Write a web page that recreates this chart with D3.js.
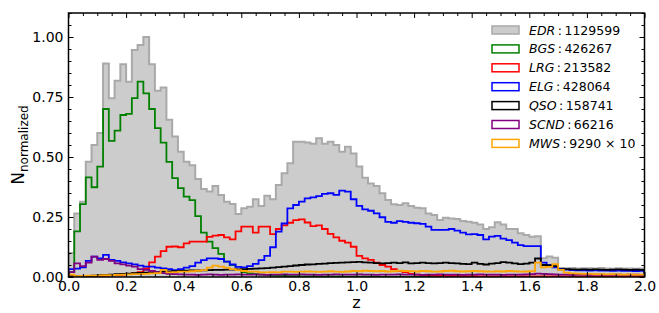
<!DOCTYPE html>
<html>
<head>
<meta charset="utf-8">
<script src="https://cdn.jsdelivr.net/npm/d3@7"></script>
<style>
  body { margin: 0; background: #fff; }
  svg { display: block; font-family: "DejaVu Sans", sans-serif; }
</style>
</head>
<body>
<svg id="chart" width="659" height="313"></svg>
<script>
// redshift histograms, 100 bins of 0.02 between z = 0 and z = 2
const binWidth = 0.02;

const edr = [
  .10, .265, .314, .48, .55, .60, .89, .745, .818, .886,
  .814, .946, .967, 1.0, .886, .776, .79, .655, .585, .522,
  .48, .466, .408, .367, .356, .379, .342, .314, .304, .262,
  .286, .293, .324, .296, .339, .324, .383, .432, .474, .564,
  .564, .56, .555, .578, .555, .564, .55, .522, .543, .515,
  .46, .414, .39, .379, .349, .321, .303, .30, .307, .296,
  .289, .286, .265, .258, .238, .247, .244, .242, .233, .23,
  .226, .219, .20, .207, .228, .219, .20, .20, .182, .175,
  .168, .17, .078, .085, .08, .037, .036, .037, .035, .036,
  .036, .035, .037, .035, .034, .036, .035, .035, .034, .035
];
const bgs = [
  .02, .19, .304, .415, .374, .46, .70, .567, .61, .675,
  .68, .745, .814, .765, .70, .62, .56, .48, .412, .37,
  .335, .32, .254, .185, .147, .12, .096, .064, .05, .03,
  .02, .015, .012, .01, .008, .006, .005, .005, .004, .004,
  .003, .003, .003, .002, .002, .002, .002, .001, .001, .001,
  .001, .001, .001, .001, 0, 0, 0, 0, 0, 0,
  0, 0, 0, 0, 0, 0, 0, 0, 0, 0,
  0, 0, 0, 0, 0, 0, 0, 0, 0, 0,
  0, 0, 0, 0, 0, 0, 0, 0, 0, 0,
  0, 0, 0, 0, 0, 0, 0, 0, 0, 0
];
const lrg = [
  .002, .002, .003, .003, .004, .005, .006, .007, .008, .01,
  .012, .015, .02, .036, .061, .085, .108, .126, .127, .124,
  .14, .147, .147, .147, .167, .172, .175, .165, .157, .19,
  .21, .21, .185, .21, .21, .179, .20, .215, .226, .237,
  .24, .227, .212, .215, .20, .18, .165, .151, .143, .126,
  .088, .078, .071, .06, .05, .043, .033, .025, .02, .013,
  .01, .008, .007, .006, .006, .005, .005, .004, .004, .004,
  .004, .003, .003, .003, .003, .003, .003, .003, .003, .003,
  .003, .003, .003, .003, .003, .003, .003, .003, .003, .003,
  .003, .003, .003, .003, .003, .003, .003, .003, .003, .003
];
const elg = [
  .033, .035, .04, .067, .085, .078, .092, .071, .067, .061,
  .057, .053, .047, .043, .043, .039, .036, .033, .029, .033,
  .039, .045, .06, .07, .078, .078, .075, .064, .052, .042,
  .04, .045, .055, .07, .088, .124, .189, .223, .286, .30,
  .314, .328, .332, .337, .346, .349, .342, .36, .356, .324,
  .296, .282, .276, .265, .249, .23, .226, .233, .23, .226,
  .224, .221, .21, .196, .196, .196, .20, .193, .185, .178,
  .179, .175, .157, .168, .171, .16, .154, .143, .133, .129,
  .129, .129, .06, .05, .04, .034, .031, .029, .028, .028,
  .027, .028, .027, .027, .026, .027, .026, .026, .025, .026
];
const qso = [
  .002, .003, .004, .005, .006, .008, .009, .01, .012, .013,
  .014, .016, .017, .018, .02, .021, .022, .023, .024, .025,
  .026, .027, .027, .028, .029, .03, .03, .031, .031, .032,
  .033, .034, .035, .036, .037, .039, .041, .043, .045, .048,
  .05, .052, .053, .055, .056, .058, .059, .06, .061, .062,
  .063, .061, .06, .058, .057, .058, .06, .058, .061, .057,
  .058, .06, .058, .057, .058, .06, .058, .057, .055, .054,
  .06, .055, .052, .056, .058, .062, .06, .057, .054, .056,
  .06, .077, .05, .048, .045, .032, .033, .032, .031, .032,
  .031, .032, .031, .03, .031, .032, .031, .03, .031, .03
];
const scnd = [
  .02, .057, .045, .06, .085, .071, .075, .067, .057, .053,
  .047, .043, .033, .03, .025, .02, .016, .013, .012, .011,
  .01, .01, .009, .01, .011, .01, .009, .01, .01, .011,
  .01, .01, .011, .01, .009, .01, .01, .011, .01, .01,
  .011, .01, .01, .009, .01, .01, .011, .01, .01, .01,
  .011, .01, .01, .009, .01, .01, .01, .011, .01, .01,
  .01, .009, .01, .01, .011, .01, .01, .01, .009, .01,
  .01, .011, .01, .01, .01, .009, .01, .01, .01, .011,
  .012, .014, .013, .012, .011, .01, .01, .009, .01, .01,
  .009, .01, .01, .009, .01, .01, .009, .01, .01, .009
];
const mws = [
  .01, .004, .005, .006, .006, .007, .008, .008, .009, .01,
  .011, .012, .012, .013, .015, .016, .03, .019, .02, .022,
  .022, .024, .026, .029, .039, .047, .043, .039, .033, .029,
  .025, .022, .022, .019, .019, .02, .019, .022, .022, .021,
  .022, .023, .022, .021, .022, .024, .022, .021, .023, .025,
  .024, .026, .025, .024, .025, .023, .024, .026, .025, .024,
  .023, .025, .024, .022, .023, .025, .026, .024, .023, .024,
  .025, .024, .023, .022, .024, .023, .025, .024, .022, .023,
  .024, .06, .04, .042, .054, .03, .018, .015, .014, .013,
  .013, .012, .012, .011, .012, .011, .01, .011, .01, .01
];

const seriesNames = ["EDR", "BGS", "LRG", "ELG", "QSO", "SCND", "MWS"];
const seriesCounts = ["1129599", "426267", "213582", "428064", "158741", "66216", "9290 \u00d7 10"];
const seriesColors = ["#a9a9a9", "#008000", "#ff0000", "#0000ff", "#000000", "#800080", "#ffa500"];
const seriesValues = [edr, bgs, lrg, elg, qso, scnd, mws];

const xTicks = [0, 0.2, 0.4, 0.6, 0.8, 1.0, 1.2, 1.4, 1.6, 1.8, 2.0];
const yTicks = [0, 0.25, 0.5, 0.75, 1.0];

const svg = d3.select("#chart");
const plotLeft = 68.5, plotRight = 644.5, plotTop = 13, plotBottom = 277;

const x = d3.scaleLinear().domain([0, 2]).range([plotLeft, plotRight]);
const y = d3.scaleLinear().domain([0, 1.1]).range([plotBottom, plotTop]);

svg.append("defs").append("clipPath").attr("id", "plotClip")
  .append("rect").attr("x", plotLeft).attr("y", plotTop)
  .attr("width", plotRight - plotLeft).attr("height", plotBottom - plotTop);

// step outline for a histogram, closed down to zero at both ends
function stepPoints(vals) {
  const pts = [[0, 0]];
  vals.forEach(function (v, i) {
    pts.push([i * binWidth, v]);
    pts.push([(i + 1) * binWidth, v]);
  });
  pts.push([vals.length * binWidth, 0]);
  return pts;
}

const line = d3.line()
  .x(function (d) { return x(d[0]); })
  .y(function (d) { return y(d[1]); });

const plot = svg.append("g").attr("clip-path", "url(#plotClip)");

seriesValues.forEach(function (vals, k) {
  plot.append("path")
    .attr("d", line(stepPoints(vals)))
    .attr("fill", k === 0 ? "#cccccc" : "none")
    .attr("stroke", seriesColors[k])
    .attr("stroke-width", k === 0 ? 2 : 1.8)
    .attr("stroke-linejoin", "miter");
});

// axes with inward ticks on all four sides
const minorX = d3.range(0, 2.0001, 0.05).filter(function (v) { return Math.abs(v / 0.2 - Math.round(v / 0.2)) > 1e-6; });
const minorY = d3.range(0, 1.1001, 0.05).filter(function (v) { return Math.abs(v / 0.25 - Math.round(v / 0.25)) > 1e-6; });

function styleAxis(g) {
  g.select(".domain").remove();
  g.selectAll("line").attr("stroke", "#000").attr("stroke-width", 1);
  g.selectAll("text").attr("fill", "#000").style("font-size", "14px")
    .style("font-family", "'DejaVu Sans', sans-serif");
}

svg.append("g").attr("transform", "translate(0," + plotBottom + ")")
  .call(d3.axisBottom(x).tickValues(xTicks).tickFormat(d3.format(".1f"))
    .tickSizeInner(-5).tickSizeOuter(0).tickPadding(4))
  .call(styleAxis);
svg.append("g").attr("transform", "translate(0," + plotBottom + ")")
  .call(d3.axisBottom(x).tickValues(minorX).tickFormat("").tickSizeInner(-3).tickSizeOuter(0))
  .call(styleAxis);
svg.append("g").attr("transform", "translate(0," + plotTop + ")")
  .call(d3.axisTop(x).tickValues(xTicks).tickFormat("").tickSizeInner(-5).tickSizeOuter(0))
  .call(styleAxis);
svg.append("g").attr("transform", "translate(0," + plotTop + ")")
  .call(d3.axisTop(x).tickValues(minorX).tickFormat("").tickSizeInner(-3).tickSizeOuter(0))
  .call(styleAxis);

svg.append("g").attr("transform", "translate(" + plotLeft + ",0)")
  .call(d3.axisLeft(y).tickValues(yTicks).tickFormat(d3.format(".2f"))
    .tickSizeInner(-5).tickSizeOuter(0).tickPadding(5))
  .call(styleAxis);
svg.append("g").attr("transform", "translate(" + plotLeft + ",0)")
  .call(d3.axisLeft(y).tickValues(minorY).tickFormat("").tickSizeInner(-3).tickSizeOuter(0))
  .call(styleAxis);
svg.append("g").attr("transform", "translate(" + plotRight + ",0)")
  .call(d3.axisRight(y).tickValues(yTicks).tickFormat("").tickSizeInner(-5).tickSizeOuter(0))
  .call(styleAxis);
svg.append("g").attr("transform", "translate(" + plotRight + ",0)")
  .call(d3.axisRight(y).tickValues(minorY).tickFormat("").tickSizeInner(-3).tickSizeOuter(0))
  .call(styleAxis);

// frame
svg.append("rect")
  .attr("x", plotLeft).attr("y", plotTop)
  .attr("width", plotRight - plotLeft).attr("height", plotBottom - plotTop)
  .attr("fill", "none").attr("stroke", "#000").attr("stroke-width", 1.5);

// axis titles
svg.append("text")
  .attr("x", (plotLeft + plotRight) / 2).attr("y", 308)
  .attr("text-anchor", "middle").style("font-size", "16px")
  .text("z");

const ylab = svg.append("text")
  .attr("transform", "translate(24," + ((plotTop + plotBottom) / 2) + ") rotate(-90)")
  .attr("text-anchor", "middle").style("font-size", "17px");
ylab.append("tspan").text("N");
ylab.append("tspan").attr("dy", 4).style("font-size", "12px").text("normalized");

// legend
const legend = svg.append("g").attr("transform", "translate(492,30)");
seriesNames.forEach(function (name, k) {
  const row = legend.append("g").attr("transform", "translate(0," + (k * 18.9) + ")");
  row.append("rect")
    .attr("x", 0).attr("y", -4).attr("width", 27).attr("height", 8)
    .attr("fill", k === 0 ? "#cccccc" : "none")
    .attr("stroke", seriesColors[k]).attr("stroke-width", 1.5);
  const t = row.append("text").attr("x", 37).attr("y", 4.5).style("font-size", "12.5px");
  t.append("tspan").style("font-style", "italic").text(name);
  t.append("tspan").text("\u2009:\u2009" + seriesCounts[k]);
});
</script>
</body>
</html>
